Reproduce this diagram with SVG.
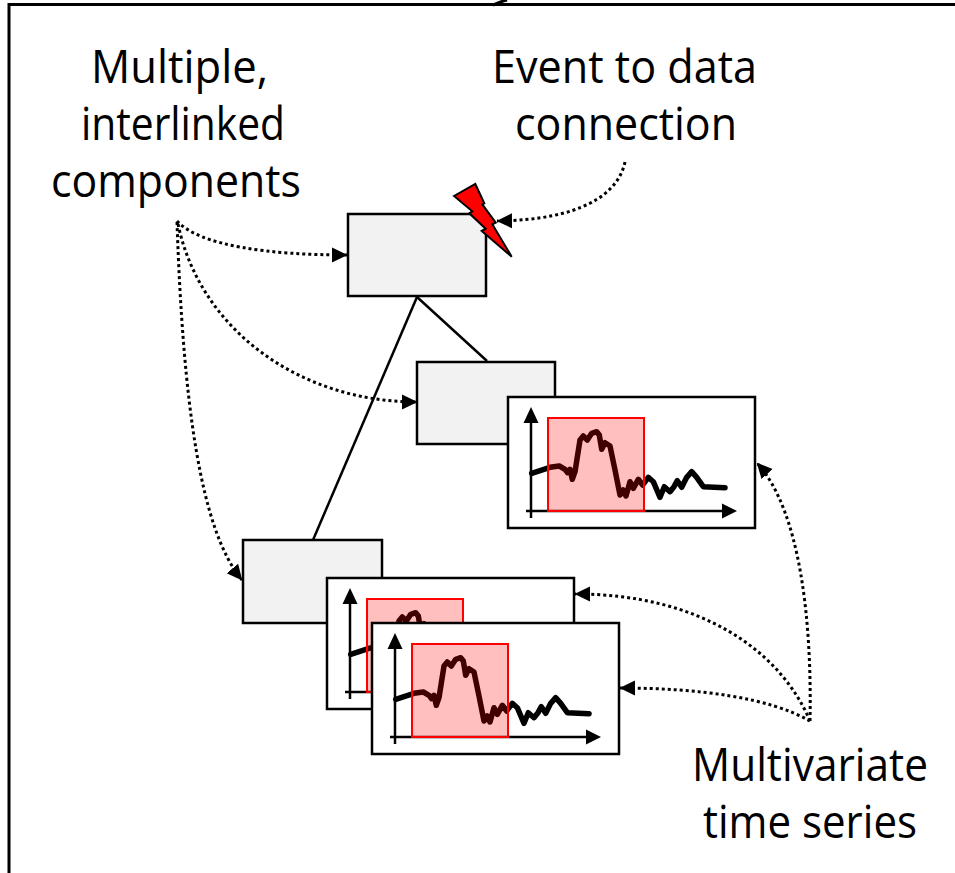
<svg xmlns="http://www.w3.org/2000/svg" xmlns:xlink="http://www.w3.org/1999/xlink" width="955" height="873" viewBox="0 0 955 873">
<style>
.frame{fill:none;stroke:#000;stroke-width:3}
.box{fill:#f2f2f2;stroke:#000;stroke-width:2.5}
.chart{fill:#fff;stroke:#000;stroke-width:2.5}
.axis{fill:none;stroke:#000;stroke-width:2.5}
.ahead{fill:#000;stroke:none}
.series{fill:none;stroke:#000;stroke-width:5.5;stroke-linejoin:round;stroke-linecap:round}
.win{fill:#ff0000;fill-opacity:0.25;stroke:#ff0000;stroke-width:2}
.link{fill:none;stroke:#000;stroke-width:2.5}
.dot{fill:none;stroke:#000;stroke-width:3;stroke-dasharray:3 3}
.lbl{font-family:"Open Sans","Liberation Sans",sans-serif;font-size:45px;fill:#000;text-anchor:middle}
</style>
<defs>
<marker id="arr" markerUnits="userSpaceOnUse" markerWidth="16" markerHeight="16" viewBox="0 0 16 16" refX="15" refY="8" orient="auto">
<path d="M0,0.5 L15.5,8 L0,15.5 z" fill="#000"/>
</marker>
<g id="chartT">
<rect class="chart" x="0" y="0" width="247" height="131"/>
<line class="axis" x1="23" y1="121" x2="23" y2="24"/>
<path class="ahead" d="M23,10 L15.5,26 L30.5,26 z"/>
<line class="axis" x1="18" y1="114" x2="216" y2="114"/>
<path class="ahead" d="M229,114 L214,106.5 L214,121.5 z"/>
<polyline class="series" points="23.7,76.3 42,70.3 51.3,69 57,72.3 59.7,75.7 62,72.3 64.3,82.3 67,74.7 72,43 75.3,39 79.3,43 83.7,36.3 88.7,34.7 91.3,38 93.7,52.3 97,45.7 102,49 107,73 112,98 115.3,93 118,99 122,84.7 125.3,91.3 130.3,82.3 134.7,88 140.3,80.3 145.3,84.7 152,100.3 156.3,89.7 162,94.7 166,89.7 169.3,83.7 173.7,90.3 178.7,80.3 183.7,74.7 188.7,80.3 195.3,89.7 217,90.7"/>
<rect class="win" x="40" y="21" width="96" height="93"/>
</g>
</defs>

<g id="frame">
<path class="frame" d="M9,873 L9,4.5 L955,4.5"/>
<path class="frame" d="M493,5 L503,1 L507,0"/>
</g>

<g id="tree-links">
<line class="link" x1="417" y1="297" x2="313" y2="540"/>
<line class="link" x1="417" y1="297" x2="487" y2="361"/>
</g>

<g id="component-top">
<rect class="box" x="348" y="214" width="138" height="82"/>
</g>

<g id="event-bolt">
<polygon points="454,196 475.3,184 484.3,203.3 482.3,204.3 495.7,222.7 492.3,224.3 511.7,256.7 481.7,231 485.7,228.7 469.3,213.3 472.3,211.3" fill="#ff0000" stroke="#000" stroke-width="2" stroke-linejoin="miter"/>
</g>

<g id="component-mid">
<rect class="box" x="417" y="362" width="138" height="82"/>
</g>

<g id="series-1">
<use xlink:href="#chartT" href="#chartT" transform="translate(508,397)"/>
</g>

<g id="component-low">
<rect class="box" x="243" y="540" width="139" height="83"/>
</g>

<g id="series-2">
<use xlink:href="#chartT" href="#chartT" transform="translate(327,578)"/>
</g>

<g id="series-3">
<use xlink:href="#chartT" href="#chartT" transform="translate(372,623)"/>
</g>

<g id="connectors">
<path class="dot" marker-end="url(#arr)" d="M177,221 C200,246 270,255 347,255"/>
<path class="dot" marker-end="url(#arr)" d="M178,224 C200,330 300,402 417,402"/>
<path class="dot" marker-end="url(#arr)" d="M177,222 C183,400 200,530 242,580"/>
<path class="dot" marker-end="url(#arr)" d="M625,162 C618,195 580,220 497,221"/>
<path class="dot" marker-end="url(#arr)" d="M810,721 C812,620 800,510 757,463"/>
<path class="dot" marker-end="url(#arr)" d="M810,721 C780,650 700,594 575,594"/>
<path class="dot" marker-end="url(#arr)" d="M810,721 C770,698 700,688 620,688"/>
</g>

<g id="labels">
<text class="lbl" x="179.5" y="83" textLength="177" lengthAdjust="spacingAndGlyphs">Multiple,</text>
<text class="lbl" x="183" y="140" textLength="204" lengthAdjust="spacingAndGlyphs">interlinked</text>
<text class="lbl" x="176" y="197" textLength="250" lengthAdjust="spacingAndGlyphs">components</text>
<text class="lbl" x="624.5" y="83" textLength="265" lengthAdjust="spacingAndGlyphs">Event to data</text>
<text class="lbl" x="626" y="140" textLength="222" lengthAdjust="spacingAndGlyphs">connection</text>
<text class="lbl" x="810" y="781" textLength="236" lengthAdjust="spacingAndGlyphs">Multivariate</text>
<text class="lbl" x="810" y="838" textLength="214" lengthAdjust="spacingAndGlyphs">time series</text>
</g>
</svg>
